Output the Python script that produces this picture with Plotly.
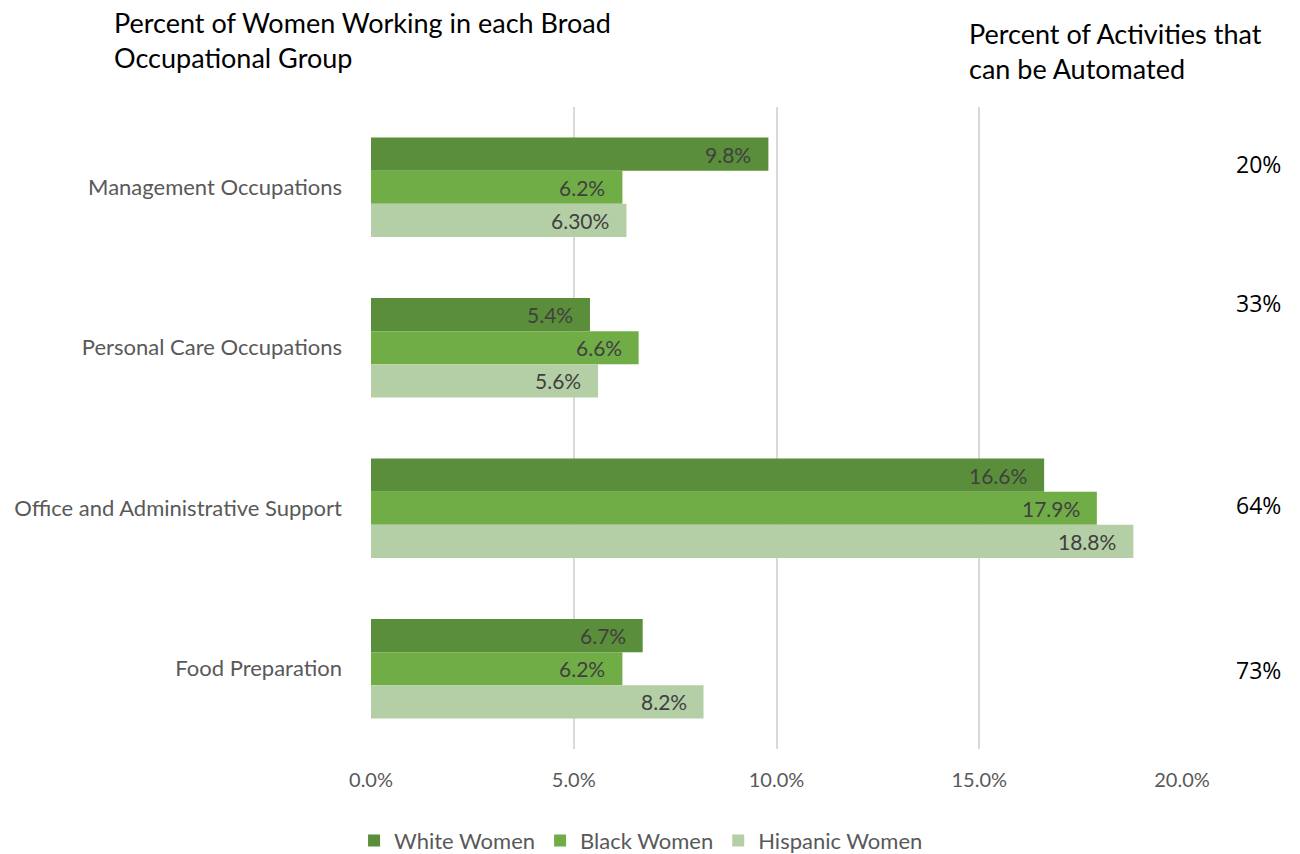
import plotly.graph_objects as go

categories = ["Management Occupations", "Personal Care Occupations",
              "Office and Administrative Support", "Food Preparation"]
white_women = [9.8, 5.4, 16.6, 6.7]
black_women = [6.2, 6.6, 17.9, 6.2]
hispanic_women = [6.3, 5.6, 18.8, 8.2]
hispanic_decimals = [2, 1, 1, 1]
automation_pct = ["20%", "33%", "64%", "73%"]
x_ticks = [0, 5, 10, 15, 20]

FONT = "Lato, 'Open Sans', sans-serif"

W, H = 1300, 854
M_L, M_R, M_T, M_B = 371, 118, 107, 105
BARGAP = 0.38

series = [
    ("White Women", white_women, [1] * 4, "#5a8e3a"),
    ("Black Women", black_women, [1] * 4, "#70ad47"),
    ("Hispanic Women", hispanic_women, hispanic_decimals, "#b4cfa5"),
]

fig = go.Figure()
for name, vals, decs, color in series:
    fig.add_trace(go.Bar(
        y=categories, x=vals, name=name, orientation="h",
        marker=dict(color=color, line=dict(width=0)),
        hoverinfo="x+name",
    ))

# value labels sit just inside the end of each bar
plot_h = H - M_T - M_B
bar_px = plot_h / len(categories) * (1 - BARGAP) / len(series)
for i, (name, vals, decs, color) in enumerate(series):
    for cat, v, d in zip(categories, vals, decs):
        fig.add_annotation(text=f"{v:.{d}f}%", x=v, y=cat, xref="x", yref="y",
                           xanchor="right", yanchor="middle", xshift=-15,
                           yshift=(1 - i) * bar_px, showarrow=False,
                           font=dict(family=FONT, size=21, color="#404040"))

# percent of automatable activities, printed beside each occupation group
auto_y = [0.9105, 0.6950, 0.3793, 0.1230]
for txt, yy in zip(automation_pct, auto_y):
    fig.add_annotation(text=txt, xref="paper", yref="paper", x=1.125, y=yy,
                       xanchor="right", yanchor="middle", showarrow=False,
                       font=dict(family="'Open Sans', sans-serif", size=23, color="#000000"))

fig.add_annotation(text="Percent of Women Working in each Broad<br>Occupational Group",
                   xref="paper", yref="paper", x=-0.319, y=1.161, xanchor="left", yanchor="top",
                   align="left", showarrow=False,
                   font=dict(family=FONT, size=27, color="#000000"))
fig.add_annotation(text="Percent of Activities that<br>can be Automated",
                   xref="paper", yref="paper", x=0.735, y=1.143, xanchor="left", yanchor="top",
                   align="left", showarrow=False,
                   font=dict(family=FONT, size=27, color="#000000"))

fig.update_layout(
    width=W, height=H,
    margin=dict(l=M_L, r=M_R, t=M_T, b=M_B, autoexpand=False),
    paper_bgcolor="white", plot_bgcolor="white",
    barmode="group", bargap=BARGAP, bargroupgap=0,
    font=dict(family=FONT, color="#595959"),
    showlegend=True,
    legend=dict(orientation="h", x=0.333, xanchor="center", y=-0.143, yanchor="middle",
                font=dict(family=FONT, size=22, color="#595959"), traceorder="normal"),
    xaxis=dict(range=[0, 20], tickvals=x_ticks,
               ticktext=[f"{t:.1f}%" for t in x_ticks],
               showgrid=True, gridcolor="#d9d9d9", gridwidth=2, zeroline=False,
               showline=False, ticks="", ticklabelstandoff=17,
               tickfont=dict(family=FONT, size=20, color="#595959")),
    yaxis=dict(autorange="reversed", showgrid=False, showline=False, ticks="",
               ticklabelstandoff=28,
               tickfont=dict(family=FONT, size=22, color="#595959")),
)

fig.write_html("out.html")
